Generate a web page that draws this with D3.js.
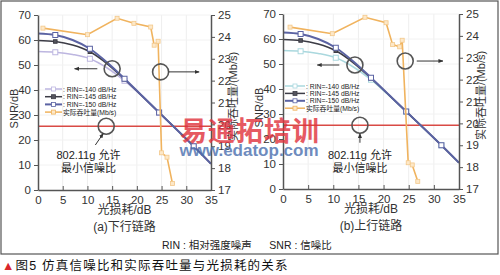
<!doctype html>
<html>
<head>
<meta charset="utf-8">
<script src="https://cdnjs.cloudflare.com/ajax/libs/d3/7.8.5/d3.min.js"></script>
<style>
  body { margin: 0; background: #fff; }
  svg { font-family: "Liberation Sans", Arial, "Noto Sans CJK SC", sans-serif; }
  .tick text { fill: #333; }
</style>
</head>
<body>
<svg width="500" height="275"></svg>
<script>
// loss axis samples for the simulated SNR curves
const loss = [0, 3.5, 7, 10.5, 14, 17.5, 21, 24.5, 28, 31.5, 35];
const snr140 = [55.4, 55.1, 54.2, 52.5, 48.8, 43.7, 37.5, 30.9, 24.2, 17.5, 10.5];
const snr145 = [59.8, 59.4, 58, 55.3, 50.5, 44.3, 37.7, 31, 24.3, 17.5, 10.5];
const snr150 = [62.6, 62, 60, 56.5, 51, 44.5, 37.8, 31, 24.3, 17.5, 10.5];
const markerLoss = [3.5, 10.5, 17.5, 24.5, 31.5];

// measured throughput (Mb/s)
const thrLossA = [1, 10, 16, 19.4, 22.8, 23.5, 24.3, 25, 26.1, 27.2];
const thrA = [24.4, 24.1, 24.85, 24.62, 24.45, 23.62, 23.8, 18.7, 18.5, 17.3];
const thrLossB = [1.4, 9.8, 16.3, 20.5, 21.8, 23.2, 23.7, 24.9, 25.7, 26.8];
const thrB = [24.4, 24.1, 24.85, 24.6, 23.6, 23.5, 23.8, 18.2, 18.1, 17.35];

const xTicks = [0, 5, 10, 15, 20, 25, 30, 35];
const snrTicks = [0, 10, 20, 30, 40, 50, 60, 70];
const thrTicks = [17, 18, 19, 20, 21, 22, 23, 24, 25];
const legendLabels = [": RIN=-140 dB/Hz", ": RIN=-145 dB/Hz", ": RIN=-150 dB/Hz", "实际吞吐量(Mb/s)"];
const minSnr = 25.5;

const svg = d3.select("svg");

// outer frame
svg.append("rect").attr("x", 1).attr("y", 1).attr("width", 497).attr("height", 253)
  .attr("fill", "none").attr("stroke", "#555").attr("stroke-width", 1.2);

function drawPanel(p) {
  const x = d3.scaleLinear().domain([0, 35]).range([p.x0, p.x1]);
  const y = d3.scaleLinear().domain([0, 70]).range([p.y0, p.y1]);
  const y2 = d3.scaleLinear().domain([17, 25]).range([p.y0, p.y1]);
  const g = svg.append("g");

  // faint grid
  g.selectAll("line.vg").data(xTicks.slice(1, -1)).join("line")
    .attr("x1", d => x(d)).attr("x2", d => x(d)).attr("y1", p.y0).attr("y2", p.y1)
    .attr("stroke", "#eee").attr("stroke-width", 1);
  g.selectAll("line.hg").data(snrTicks.slice(1)).join("line")
    .attr("x1", p.x0).attr("x2", p.x1).attr("y1", d => y(d)).attr("y2", d => y(d))
    .attr("stroke", "#f2f2f2").attr("stroke-width", 1);

  // minimum SNR line
  g.append("line").attr("x1", x(0)).attr("x2", x(35)).attr("y1", y(minSnr)).attr("y2", y(minSnr))
    .attr("stroke", "#d94a45").attr("stroke-width", 1.3);

  const ln = d3.line().x(d => x(d[0])).y(d => y(d[1])).curve(d3.curveMonotoneX);
  const series = [
    { v: snr140, c: p.c140, w: 1.5, fill: "#fff", s: 5 },
    { v: snr145, c: "#3c3c46", w: 1.6, fill: "#55555e", s: 3.5 },
    { v: snr150, c: "#5b63a3", w: 2, fill: "#fff", s: 5 }
  ];
  const valAt = (v, m) => v[d3.bisectLeft(loss, m)];
  series.forEach(s => {
    g.append("path").datum(loss.map((l, i) => [l, s.v[i]])).attr("d", ln)
      .attr("fill", "none").attr("stroke", s.c).attr("stroke-width", s.w);
    g.selectAll(null).data(markerLoss).join("rect")
      .attr("x", d => x(d) - s.s / 2).attr("y", d => y(valAt(s.v, d)) - s.s / 2)
      .attr("width", s.s).attr("height", s.s)
      .attr("fill", s.fill).attr("stroke", s.c).attr("stroke-width", 1);
  });

  // throughput
  const thrData = p.thrLoss.map((l, i) => [l, p.thr[i]]);
  g.append("path").datum(thrData)
    .attr("d", d3.line().x(d => x(d[0])).y(d => y2(d[1])))
    .attr("fill", "none").attr("stroke", "#f0b35e").attr("stroke-width", 1.6);
  g.selectAll(null).data(thrData).join("rect")
    .attr("x", d => x(d[0]) - 2).attr("y", d => y2(d[1]) - 2)
    .attr("width", 4).attr("height", 4)
    .attr("fill", "#fde8c8").attr("stroke", "#f3c88a").attr("stroke-width", 0.8);

  // axes
  const ax = g.append("g").attr("transform", `translate(0,${p.y0})`)
    .call(d3.axisBottom(x).tickValues(xTicks).tickSizeInner(-4).tickSizeOuter(0).tickPadding(6));
  const ayl = g.append("g").attr("transform", `translate(${p.x0},0)`)
    .call(d3.axisLeft(y).tickValues(snrTicks).tickSizeInner(4).tickSizeOuter(0).tickPadding(3));
  const ayr = g.append("g").attr("transform", `translate(${p.x1},0)`)
    .call(d3.axisRight(y2).tickValues(thrTicks).tickSizeInner(4).tickSizeOuter(0).tickPadding(3));
  [ax, ayl, ayr].forEach(a => {
    a.select(".domain").attr("stroke", "#555").attr("stroke-width", 1.5);
    a.selectAll(".tick line").attr("stroke", "#555");
    a.selectAll(".tick text").attr("font-size", 11.5).attr("font-family", "Liberation Sans, Arial, sans-serif");
  });

  // axis titles
  g.append("text").attr("transform", `translate(${p.x0 - 20},${(p.y0 + p.y1) / 2 + 6}) rotate(-90)`)
    .attr("text-anchor", "middle").attr("font-size", 11).attr("fill", "#333").text("SNR/dB");
  g.append("text").attr("transform", `translate(${p.x1 + 26},${(p.y0 + p.y1) / 2 - 6}) rotate(-90)`)
    .attr("text-anchor", "middle").attr("font-size", 11).attr("fill", "#333").text("实际吞吐量/(Mb/s)");
  g.append("text").attr("x", (p.x0 + p.x1) / 2).attr("y", p.y0 + 24)
    .attr("text-anchor", "middle").attr("font-size", 12).attr("fill", "#333").text("光损耗/dB");
  g.append("text").attr("x", (p.x0 + p.x1) / 2).attr("y", p.y0 + 41)
    .attr("text-anchor", "middle").attr("font-size", 12).attr("fill", "#333").text(p.caption);

  // legend
  const legC = [p.c140, "#3c3c46", "#5b63a3", "#f0b35e"];
  const legF = ["#fff", "#55555e", "#fff", "#fde8c8"];
  legendLabels.forEach((t, i) => {
    const ly = p.legY + i * p.legStep;
    g.append("line").attr("x1", p.legX).attr("x2", p.legX + p.legW).attr("y1", ly).attr("y2", ly)
      .attr("stroke", legC[i]).attr("stroke-width", i === 2 ? 2 : 1.5);
    g.append("rect").attr("x", p.legX + p.legW / 2 - 2).attr("y", ly - 2).attr("width", 4).attr("height", 4)
      .attr("fill", legF[i]).attr("stroke", legC[i]).attr("stroke-width", 0.8);
    g.append("text").attr("x", p.legX + p.legW + 1).attr("y", ly + 2.5)
      .attr("font-size", 6.8).attr("fill", "#222").text(t);
  });

  // annotations (data units)
  const circ = (cx, cy) => g.append("circle").attr("cx", cx).attr("cy", cy).attr("r", 8)
    .attr("fill", "none").attr("stroke", "#555").attr("stroke-width", 1.6);
  const arrow = (xa, ya, xb, yb) => {
    g.append("line").attr("x1", xa).attr("y1", ya).attr("x2", xb).attr("y2", yb)
      .attr("stroke", "#333").attr("stroke-width", 1).attr("marker-end", "url(#ah)");
  };
  const a = p.ann;
  circ(x(a.snrC[0]), y(a.snrC[1]));
  arrow(x(a.snrA[0]), y(a.snrC[1]), x(a.snrA[1]), y(a.snrC[1]));
  circ(x(a.thrC[0]), y2(a.thrC[1]));
  arrow(x(a.thrA[0]), y2(a.thrC[1]), x(a.thrA[1]), y2(a.thrC[1]));
  circ(x(a.minC), y(minSnr));
  arrow(x(a.minA[0]), y(a.minA[1]), x(a.minA[2]), y(a.minA[3]));
  g.append("text").attr("x", x(a.txt)).attr("y", y(a.txtY)).attr("text-anchor", "middle")
    .attr("font-size", 11).attr("fill", "#222").text("802.11g 允许");
  g.append("text").attr("x", x(a.txt)).attr("y", y(a.txtY) + 13).attr("text-anchor", "middle")
    .attr("font-size", 11).attr("fill", "#222").text("最小信噪比");
}

svg.append("defs").append("marker").attr("id", "ah").attr("viewBox", "0 0 10 10")
  .attr("refX", 9).attr("refY", 5).attr("markerWidth", 5).attr("markerHeight", 5)
  .attr("orient", "auto").append("path").attr("d", "M0,1L10,5L0,9Z").attr("fill", "#333");

drawPanel({
  x0: 38, x1: 211, y0: 190, y1: 15, c140: "#bdb6e0",
  thrLoss: thrLossA, thr: thrA, caption: "(a)下行链路",
  legX: 45, legW: 17, legY: 89, legStep: 7.7,
  ann: { snrC: [15, 48.5], snrA: [12, 7.4], thrC: [24.8, 22.4], thrA: [26.4, 32.6],
         minC: 13.8, minA: [11.6, 18, 13.2, 22.6], txt: 10.2, txtY: 12.6 }
});
drawPanel({
  x0: 283, x1: 459, y0: 189, y1: 14, c140: "#aad8de",
  thrLoss: thrLossB, thr: thrB, caption: "(b)上行链路",
  legX: 285, legW: 20, legY: 86, legStep: 7.4,
  ann: { snrC: [14.3, 49.6], snrA: [11.2, 6.8], thrC: [24.3, 22.85], thrA: [26.6, 31.8],
         minC: 15.3, minA: [15.3, 18.5, 15.3, 22.2], txt: 15.3, txtY: 12.2 }
});

// watermark
svg.append("text").attr("x", 250).attr("y", 141).attr("text-anchor", "middle")
  .attr("font-size", 27).attr("font-weight", "bold").attr("fill", "#e0323c").attr("opacity", 0.8)
  .attr("font-family", "Noto Sans CJK SC").attr("letter-spacing", 1).text("易通拓培训");
svg.append("text").attr("x", 249).attr("y", 156).attr("text-anchor", "middle")
  .attr("font-size", 17).attr("font-weight", "bold").attr("fill", "#4a6fae").attr("opacity", 0.8)
  .text("www.edatop.com");

// footnote and caption
svg.append("text").attr("x", 162).attr("y", 249).attr("font-size", 10.5).attr("fill", "#222")
  .attr("xml:space", "preserve").text("RIN : 相对强度噪声      SNR : 信噪比");
const cap = svg.append("text").attr("x", 2).attr("y", 270).attr("font-size", 12.5).attr("letter-spacing", 1.2);
cap.append("tspan").attr("fill", "#d9262b").text("▲");
cap.append("tspan").attr("fill", "#111").text("图5 仿真信噪比和实际吞吐量与光损耗的关系");
</script>
</body>
</html>
